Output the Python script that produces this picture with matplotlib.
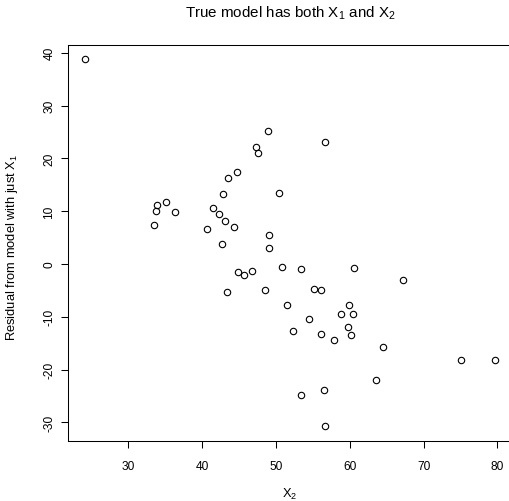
import matplotlib
matplotlib.use("Agg")
import matplotlib.pyplot as plt

plt.rcParams['font.family'] = ['Liberation Sans', 'DejaVu Sans']
plt.rcParams['mathtext.fontset'] = 'custom'
plt.rcParams['mathtext.rm'] = 'Liberation Sans'
plt.rcParams['mathtext.it'] = 'Liberation Sans:italic'

# Data
x2 = [24.1, 48.9, 47.3, 47.5, 44.7, 43.5, 42.8, 50.4, 33.9, 35.1,
      33.8, 36.3, 41.5, 42.3, 43.1, 44.3, 40.7, 33.5, 49.0, 42.7,
      49.0, 50.8, 53.4, 44.8, 45.7, 46.7, 43.4, 56.6, 60.6, 67.2,
      48.5, 55.1, 56.1, 51.5, 59.9, 58.8, 60.5, 54.5, 59.7, 52.3,
      56.1, 60.1, 57.8, 64.5, 75.1, 79.7, 63.6, 56.5, 53.4, 56.7]
resid = [38.8, 25.2, 22.2, 21.1, 17.4, 16.2, 13.2, 13.4, 11.2, 11.7,
         10.0, 9.9, 10.7, 9.4, 8.1, 7.1, 6.6, 7.4, 5.5, 3.7,
         3.0, -0.5, -0.9, -1.5, -2.0, -1.4, -5.3, 23.1, -0.8, -3.1,
         -5.0, -4.7, -5.0, -7.8, -7.8, -9.5, -9.5, -10.4, -12.0, -12.7,
         -13.2, -13.4, -14.3, -15.7, -18.2, -18.2, -22.0, -23.9, -24.8, -30.7]
x_ticks = [30, 40, 50, 60, 70, 80]
y_ticks = [-30, -20, -10, 0, 10, 20, 30, 40]

W, H = 510, 502
fig = plt.figure(figsize=(W / 100, H / 100), dpi=100)
left, right, top, bottom = 68.3, 511.5, 45.9, 442.4
ax = fig.add_axes([left / W, 1 - bottom / H, (right - left) / W, (bottom - top) / H])

ax.plot(x2, resid, linestyle='none', marker='o', markersize=4.6,
        markerfacecolor='none', markeredgecolor='black', markeredgewidth=0.8)

ax.set_xlim(21.86, 81.91)
ax.set_ylim(-33.6, 41.5)
ax.set_xticks(x_ticks)
ax.set_yticks(y_ticks)
ax.set_xticklabels([str(v) for v in x_ticks])
ax.set_yticklabels([str(v) for v in y_ticks], rotation=90, va='center')
ax.tick_params(axis='both', direction='out', length=7.2 * 0.72, width=0.75,
               labelsize=8.6, color='black')
ax.tick_params(axis='x', pad=8.2)
ax.tick_params(axis='y', pad=4.0)
for s in ax.spines.values():
    s.set_linewidth(0.75)
    s.set_color('black')
ax.spines['right'].set_visible(False)

fig.text(290 / W, 1 - 17.3 / H,
         r'True model has both $\mathregular{X_1}$ and $\mathregular{X_2}$',
         ha='center', va='baseline', fontsize=10.9)
fig.text(290 / W, 1 - 498.3 / H, r'$\mathregular{X_2}$',
         ha='center', va='baseline', fontsize=9.3)
fig.text(12.5 / W, 1 - 247 / H, r'Residual from model with just $\mathregular{X_1}$',
         ha='center', va='center', rotation=90, fontsize=9.3)

fig.savefig('out.png', dpi=100)
